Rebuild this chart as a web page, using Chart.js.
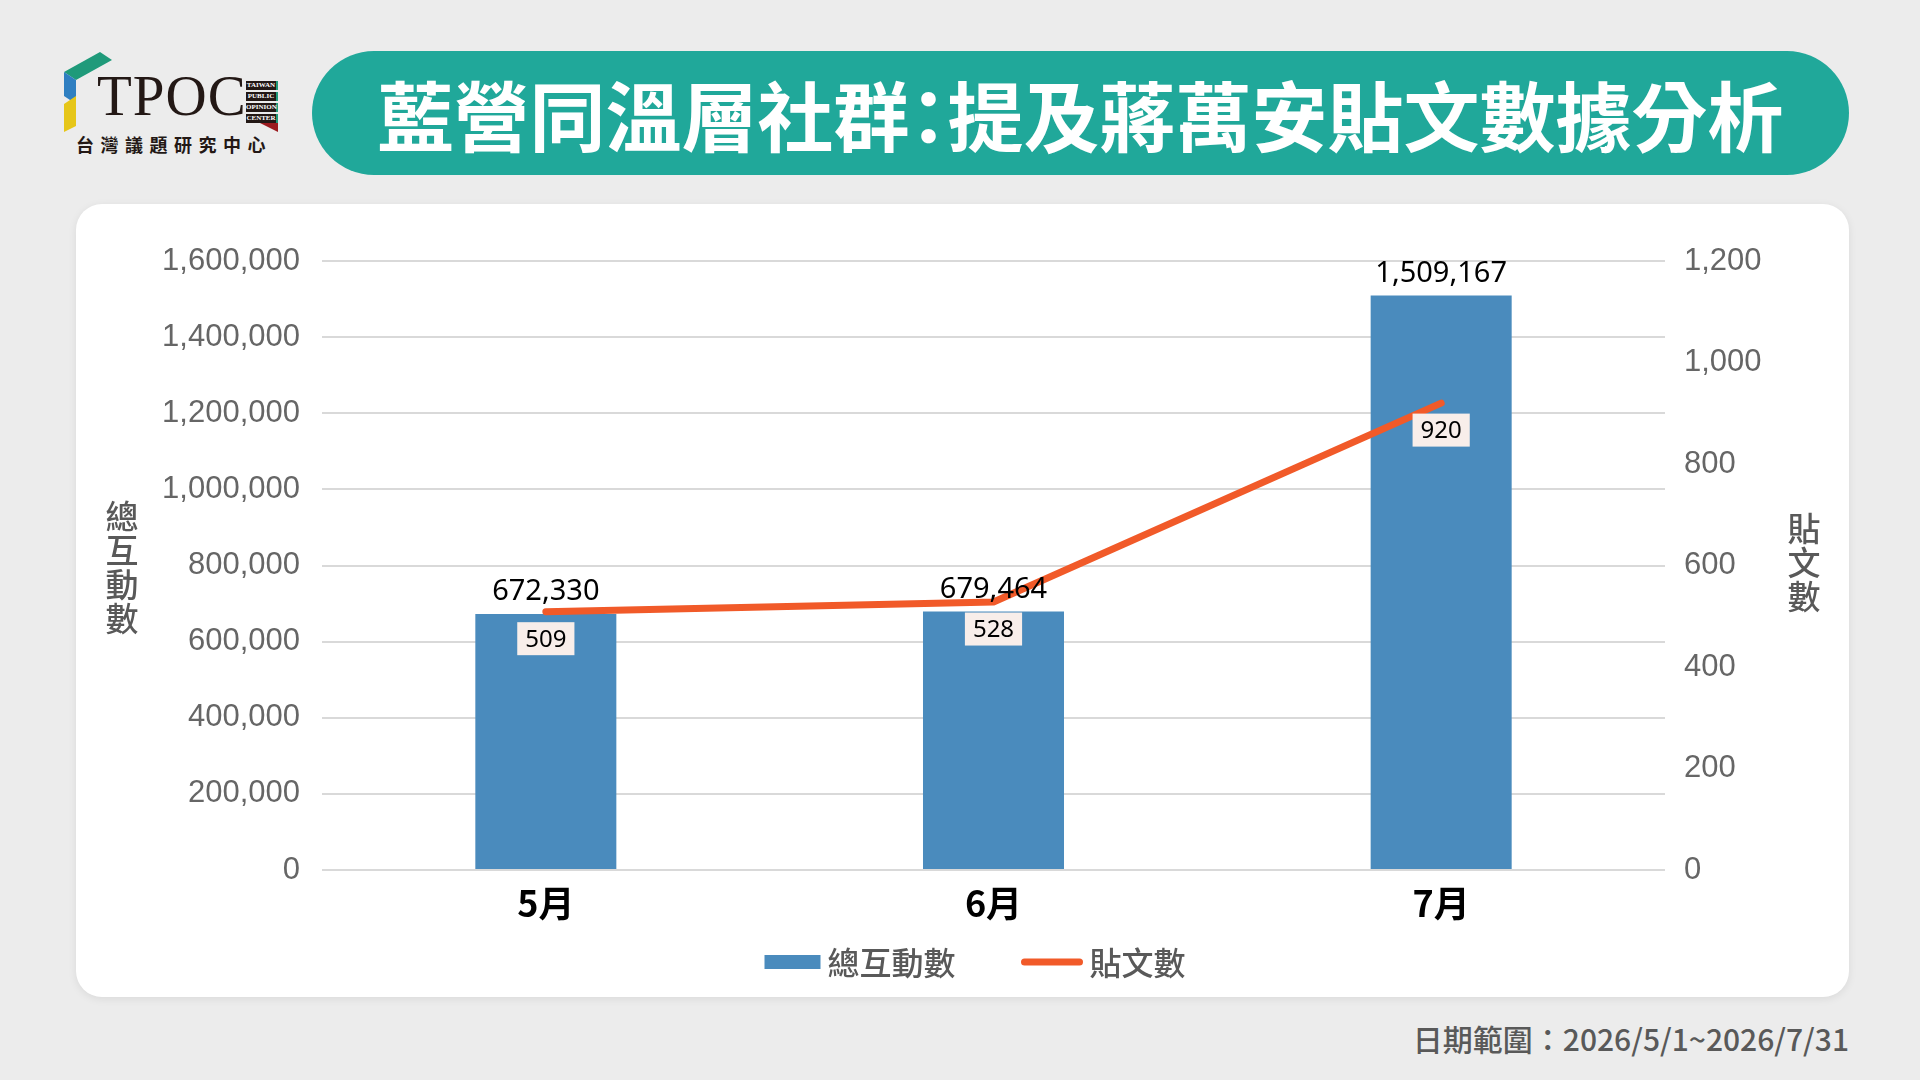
<!DOCTYPE html>
<html lang="zh-Hant">
<head>
<meta charset="utf-8">
<title>藍營同溫層社群：提及蔣萬安貼文數據分析</title>
<script src="https://cdn.jsdelivr.net/npm/chart.js@4.4.1/dist/chart.umd.min.js"></script>
<style>
	html, body {
		margin: 0;
		padding: 0;
	}
	body {
		width: 1920px;
		height: 1080px;
		background: #ececec;
		position: relative;
		overflow: hidden;
		font-family: "Noto Sans CJK TC", "Noto Sans", sans-serif;
	}
	#logo {
		position: absolute;
		left: 60px;
		top: 52px;
		width: 240px;
		height: 110px;
	}
	#logo .tpoc {
		position: absolute;
		left: 37px;
		top: 15px;
		font-family: "Liberation Serif", "DejaVu Serif", serif;
		font-size: 57px;
		line-height: 57px;
		color: #231815;
		letter-spacing: 1px;
	}
	#logo .tag {
		position: absolute;
		left: 186px;
		top: 29px;
		width: 32px;
	}
	#logo .tag div {
		background: #231815;
		color: #ffffff;
		font-family: "Liberation Serif", serif;
		font-size: 7px;
		line-height: 9px;
		height: 9px;
		margin-bottom: 2px;
		text-align: center;
		font-weight: bold;
		border-right: 2px solid #1f9a7a;
	}
	#logo .tag .red {
		width: 0;
		height: 0;
		margin: -2px 0 0 14px;
		background: none;
		border-right: none;
		border-left: 18px solid transparent;
		border-top: 9px solid #9b1b1f;
	}
	#logo .cn {
		position: absolute;
		left: 16px;
		top: 79px;
		font-size: 18px;
		font-weight: 700;
		color: #231815;
		letter-spacing: 6.5px;
	}
	#title {
		position: absolute;
		left: 312px;
		top: 51px;
		width: 1537px;
		height: 124px;
		border-radius: 62px;
		background: #20a89a;
		color: #ffffff;
		font-size: 76px;
		font-weight: 700;
		line-height: 124px;
		text-align: center;
	}
	#title .colon {
		font-feature-settings: "halt";
	}
	#card {
		position: absolute;
		left: 76px;
		top: 204px;
		width: 1773px;
		height: 793px;
		border-radius: 26px;
		background: #ffffff;
		box-shadow: 0 2px 8px rgba(0, 0, 0, 0.08);
	}
	#chart {
		position: absolute;
		left: 0;
		top: 0;
	}
	.ytitle {
		position: absolute;
		writing-mode: vertical-rl;
		font-size: 33px;
		line-height: 33px;
		font-weight: 500;
		color: #595959;
		letter-spacing: 1px;
	}
	#footer {
		position: absolute;
		right: 71px;
		top: 1016px;
		font-size: 30px;
		font-weight: 500;
		color: #595959;
	}
</style>
</head>
<body>
<div id="logo">
	<svg width="60" height="80" viewBox="0 0 60 80" style="position:absolute;left:0;top:0">
		<polygon points="4,20 40,0 52,8 16,28" fill="#1f9a7a" />
		<polygon points="4,20 16,28 16,52 4,44" fill="#2f7fc1" />
		<polygon points="4,52 16,44 16,74 4,80" fill="#e6c619" />
	</svg>
	<div class="tpoc">TPOC</div>
	<div class="tag">
		<div>TAIWAN</div>
		<div>PUBLIC</div>
		<div>OPINION</div>
		<div>CENTER</div>
		<div class="red"></div>
	</div>
	<div class="cn">台灣議題研究中心</div>
</div>

<div id="title">藍營同溫層社群<span class="colon">：</span>提及蔣萬安貼文數據分析</div>

<div id="card">
	<canvas id="chart" width="1773" height="793"></canvas>
	<div class="ytitle" style="left:29px; top:296px;">總互動數</div>
	<div class="ytitle" style="left:1711px; top:308px;">貼文數</div>
</div>

<div id="footer">日期範圍：2026/5/1~2026/7/31</div>

<script>
const months = ["5月", "6月", "7月"];
const interactions = [672330, 679464, 1509167];
const posts = [509, 528, 920];
const leftTicks = [0, 200000, 400000, 600000, 800000, 1000000, 1200000, 1400000, 1600000];
const rightTicks = [0, 200, 400, 600, 800, 1000, 1200];

const barColor = "#4a8bbd";
const lineColor = "#f15a29";

// value labels: above the bars, boxed under the line points
const valueLabels = {
	id: "valueLabels",
	afterDatasetsDraw(chart) {
		const ctx = chart.ctx;
		ctx.save();
		const barMeta = chart.getDatasetMeta(0);
		ctx.font = '29px "Noto Sans", sans-serif';
		ctx.fillStyle = "#000000";
		ctx.textAlign = "center";
		ctx.textBaseline = "middle";
		barMeta.data.forEach((el, i) => {
			ctx.fillText(interactions[i].toLocaleString("en-US"), el.x, el.y - 22);
		});

		const lineMeta = chart.getDatasetMeta(1);
		ctx.font = '24px "Noto Sans", sans-serif';
		lineMeta.data.forEach((el, i) => {
			const txt = String(posts[i]);
			const w = ctx.measureText(txt).width + 16;
			const h = 33;
			const cy = el.y + 27;
			ctx.fillStyle = "#f8eeea";
			ctx.fillRect(el.x - w / 2, cy - h / 2, w, h);
			ctx.fillStyle = "#000000";
			ctx.fillText(txt, el.x, cy + 1);
		});
		ctx.restore();
	},
};

// legend drawn below the axis: wide swatch, tight gap, wide spacing
const bottomLegend = {
	id: "bottomLegend",
	afterDraw(chart) {
		const ctx = chart.ctx;
		const cy = 758;
		const centerX = 899;
		ctx.save();
		ctx.font = '500 32px "Noto Sans CJK TC", sans-serif';
		ctx.textBaseline = "middle";
		ctx.textAlign = "left";
		const items = chart.data.datasets.map((ds) => ({
			text: ds.label,
			line: ds.type === "line",
			color: ds.type === "line" ? ds.borderColor : ds.backgroundColor,
			sw: ds.type === "line" ? 61 : 56,
		}));
		const gap = 7;
		const spacing = 66;
		let total = 0;
		items.forEach((it, i) => {
			it.tw = ctx.measureText(it.text).width;
			total += it.sw + gap + it.tw + (i > 0 ? spacing : 0);
		});
		let x = centerX - total / 2;
		items.forEach((it) => {
			if (it.line) {
				ctx.strokeStyle = it.color;
				ctx.lineWidth = 7;
				ctx.lineCap = "round";
				ctx.beginPath();
				ctx.moveTo(x + 3, cy);
				ctx.lineTo(x + it.sw - 3, cy);
				ctx.stroke();
			} else {
				ctx.fillStyle = it.color;
				ctx.fillRect(x, cy - 7, it.sw, 14);
			}
			x += it.sw + gap;
			ctx.fillStyle = "#595959";
			ctx.fillText(it.text, x, cy + 1);
			x += it.tw + spacing;
		});
		ctx.restore();
	},
};

const chart = new Chart(document.getElementById("chart"), {
	type: "bar",
	data: {
		labels: months,
		datasets: [
			{
				label: "總互動數",
				data: interactions,
				backgroundColor: barColor,
				yAxisID: "y",
				categoryPercentage: 1,
				barPercentage: 0.315,
				order: 1,
			},
			{
				type: "line",
				label: "貼文數",
				data: posts,
				borderColor: lineColor,
				backgroundColor: lineColor,
				borderWidth: 7,
				borderCapStyle: "round",
				borderJoinStyle: "round",
				pointRadius: 0,
				yAxisID: "y1",
				order: 0,
			},
		],
	},
	options: {
		responsive: false,
		animation: false,
		layout: {
			padding: { top: 57, bottom: 55, left: 0, right: 0 },
		},
		plugins: {
			tooltip: { enabled: false },
			legend: { display: false },
		},
		scales: {
			x: {
				grid: { display: false },
				border: { display: false },
				afterFit: (s) => {
					s.height = 72;
				},
				ticks: {
					color: "#000000",
					padding: 4,
					font: { family: '"Noto Sans CJK TC", sans-serif', size: 36, weight: "bold" },
				},
			},
			y: {
				position: "left",
				min: 0,
				max: 1600000,
				afterBuildTicks: (s) => {
					s.ticks = leftTicks.map((v) => ({ value: v }));
				},
				afterFit: (s) => {
					s.width = 246;
				},
				grid: { color: "#d9d9d9", lineWidth: 2, drawTicks: false },
				border: { display: false },
				ticks: {
					color: "#666666",
					padding: 22,
					font: { family: '"Liberation Sans", Arial, sans-serif', size: 31 },
					callback: (v) => v.toLocaleString("en-US"),
				},
			},
			y1: {
				position: "right",
				min: 0,
				max: 1200,
				afterBuildTicks: (s) => {
					s.ticks = rightTicks.map((v) => ({ value: v }));
				},
				afterFit: (s) => {
					s.width = 184;
				},
				grid: { display: false },
				border: { display: false },
				ticks: {
					color: "#666666",
					padding: 11,
					font: { family: '"Liberation Sans", Arial, sans-serif', size: 31 },
					callback: (v) => v.toLocaleString("en-US"),
				},
			},
		},
	},
	plugins: [valueLabels, bottomLegend],
});
</script>
</body>
</html>
